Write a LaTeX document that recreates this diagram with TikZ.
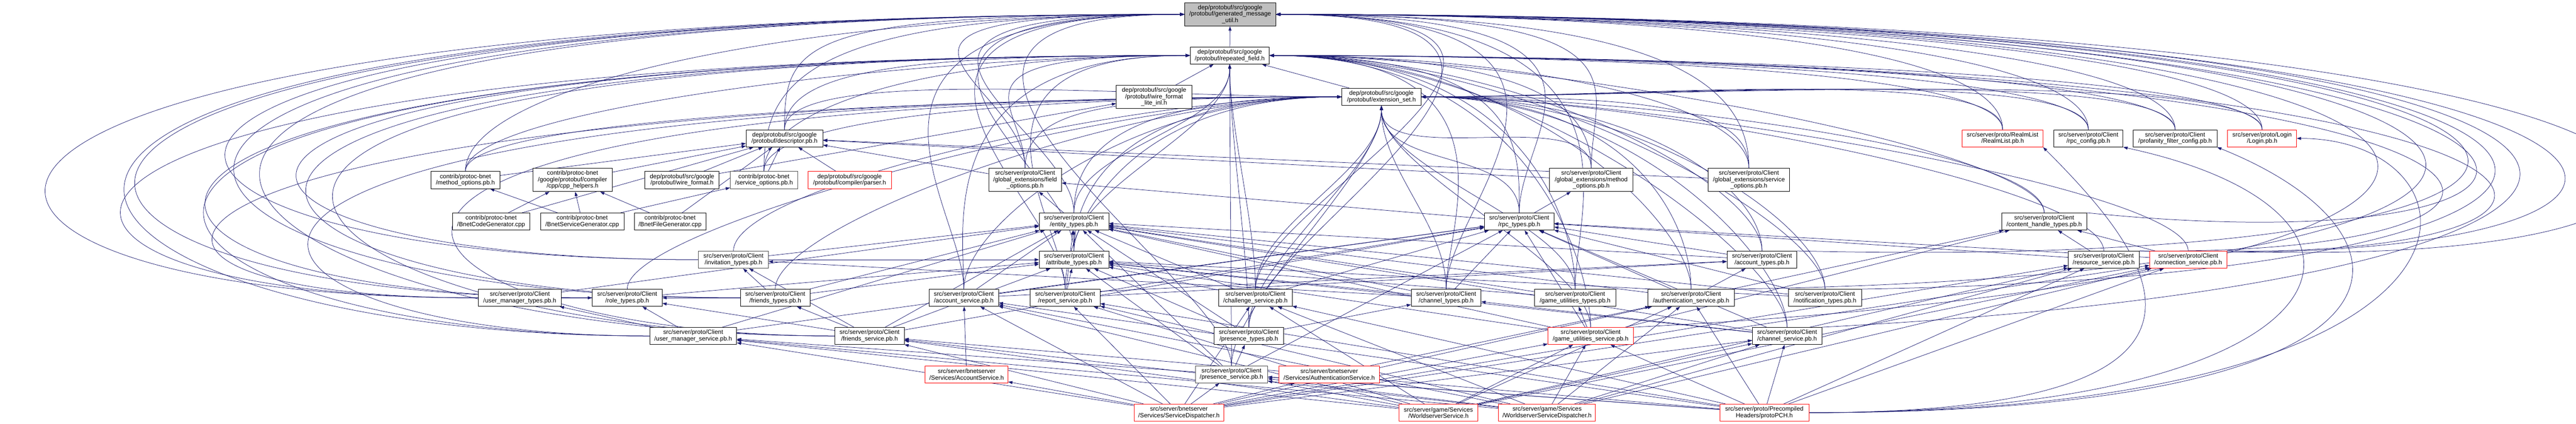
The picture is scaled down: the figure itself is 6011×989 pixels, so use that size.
\documentclass[tikz,border=0pt]{standalone}
\usepackage{fontspec}
\setmainfont{Liberation Sans}
\usepackage{xcolor}
\usepackage{tikz}
\usetikzlibrary{arrows.meta, backgrounds}
\definecolor{edgeblue}{HTML}{191970}
\definecolor{rootgrey}{HTML}{BFBFBF}
\newcommand{\hfont}{\fontsize{14.3}{15}\selectfont}

\begin{document}
\begin{tikzpicture}[x=1pt, y=-1pt,
	hfile/.style={draw=black, fill=white, line width=1pt, inner sep=0pt, align=center, font=\hfont, minimum height=40},
	tallfile/.style={hfile, minimum height=54},
	redfile/.style={hfile, draw=red},
	greyfile/.style={hfile, draw=black!70},
	inc/.style={draw=edgeblue, line width=0.9pt, -{Triangle[length=10pt,width=7pt]}}]
			% Rows of the graph
			\def\rowTop{33.5}
			\def\rowRf{129.5}
			\def\rowEs{226}
			\def\rowDesc{323}
			\def\rowOpt{420}
			\def\rowEnt{517}
			\def\rowAttr{606}
			\def\rowTypes{695}
			\def\rowSvc{784}
			\def\rowBnet{873.5}
			\def\rowDisp{963}
			
			\useasboundingbox (0,0) rectangle (6011,989);
			
			% PROTOBUF HEADERS
			\node[tallfile, fill=rootgrey, minimum width=213, minimum height=55] (root) at (2870.5,\rowTop) {dep/protobuf/src/google\\/protobuf/generated\_message\\\_util.h};
			\node[hfile, minimum width=185] (rf) at (2869.5,\rowRf) {dep/protobuf/src/google\\/protobuf/repeated\_field.h};
			\node[tallfile, minimum width=176] (wfli) at (2693,\rowEs) {dep/protobuf/src/google\\/protobuf/wire\_format\\\_lite\_inl.h};
			\node[hfile, minimum width=185] (es) at (3223.5,\rowEs) {dep/protobuf/src/google\\/protobuf/extension\_set.h};
			\node[hfile, minimum width=179] (desc) at (1830.5,\rowDesc) {dep/protobuf/src/google\\/protobuf/descriptor.pb.h};
			\node[hfile, minimum width=173] (wf) at (1591.5,\rowOpt) {dep/protobuf/src/google\\/protobuf/wire\_format.h};
			\node[redfile, minimum width=195] (parser) at (1982.5,\rowOpt) {dep/protobuf/src/google\\/protobuf/compiler/parser.h};
			
			% PROTOC-BNET
			\node[hfile, minimum width=162] (mopt) at (1086,\rowOpt) {contrib/protoc-bnet\\/method\_options.pb.h};
			\node[tallfile, minimum width=186] (cpph) at (1336,\rowOpt) {contrib/protoc-bnet\\/google/protobuf/compiler\\/cpp/cpp\_helpers.h};
			\node[greyfile, minimum width=157] (sopt) at (1782.5,\rowOpt) {contrib/protoc-bnet\\/service\_options.pb.h};
			\node[hfile, minimum width=180] (bcg) at (1146,\rowEnt) {contrib/protoc-bnet\\/BnetCodeGenerator.cpp};
			\node[hfile, minimum width=195] (bsg) at (1358.5,\rowEnt) {contrib/protoc-bnet\\/BnetServiceGenerator.cpp};
			\node[hfile, minimum width=167] (bfg) at (1563.5,\rowEnt) {contrib/protoc-bnet\\/BnetFileGenerator.cpp};
			
			% GLOBAL EXTENSIONS AND CONFIG
			\node[tallfile, minimum width=170] (gfopt) at (2392,\rowOpt) {src/server/proto/Client\\/global\_extensions/field\\\_options.pb.h};
			\node[tallfile, minimum width=194] (gmopt) at (3713,\rowOpt) {src/server/proto/Client\\/global\_extensions/method\\\_options.pb.h};
			\node[tallfile, minimum width=190] (gsopt) at (4081,\rowOpt) {src/server/proto/Client\\/global\_extensions/service\\\_options.pb.h};
			\node[redfile, minimum width=188] (realm) at (4673,\rowDesc) {src/server/proto/RealmList\\/RealmList.pb.h};
			\node[hfile, minimum width=162] (rpccfg) at (4873,\rowDesc) {src/server/proto/Client\\/rpc\_config.pb.h};
			\node[hfile, minimum width=195] (prof) at (5075.5,\rowDesc) {src/server/proto/Client\\/profanity\_filter\_config.pb.h};
			\node[redfile, minimum width=161] (login) at (5278.5,\rowDesc) {src/server/proto/Login\\/Login.pb.h};
			
			% CLIENT TYPES
			\node[hfile, minimum width=162] (entity) at (2506,\rowEnt) {src/server/proto/Client\\/entity\_types.pb.h};
			\node[hfile, minimum width=162] (rpct) at (3545,\rowEnt) {src/server/proto/Client\\/rpc\_types.pb.h};
			\node[hfile, minimum width=198] (chtypes) at (4770,\rowEnt) {src/server/proto/Client\\/content\_handle\_types.pb.h};
			\node[greyfile, minimum width=163] (invit) at (1711.5,\rowAttr) {src/server/proto/Client\\/invitation\_types.pb.h};
			\node[hfile, minimum width=162] (attr) at (2506,\rowAttr) {src/server/proto/Client\\/attribute\_types.pb.h};
			\node[hfile, minimum width=163] (acct) at (4111.5,\rowAttr) {src/server/proto/Client\\/account\_types.pb.h};
			\node[hfile, minimum width=166] (ressvc) at (4909,\rowAttr) {src/server/proto/Client\\/resource\_service.pb.h};
			\node[redfile, minimum width=180] (connsvc) at (5106,\rowAttr) {src/server/proto/Client\\/connection\_service.pb.h};
			\node[hfile, minimum width=194] (umtypes) at (1213,\rowTypes) {src/server/proto/Client\\/user\_manager\_types.pb.h};
			\node[hfile, minimum width=163] (role) at (1463.5,\rowTypes) {src/server/proto/Client\\/role\_types.pb.h};
			\node[hfile, minimum width=162] (frtypes) at (1809,\rowTypes) {src/server/proto/Client\\/friends\_types.pb.h};
			\node[hfile, minimum width=162] (acctsvc) at (2249,\rowTypes) {src/server/proto/Client\\/account\_service.pb.h};
			\node[hfile, minimum width=163] (report) at (2485.5,\rowTypes) {src/server/proto/Client\\/report\_service.pb.h};
			\node[hfile, minimum width=171] (chall) at (2929.5,\rowTypes) {src/server/proto/Client\\/challenge\_service.pb.h};
			\node[hfile, minimum width=163] (chantypes) at (3374.5,\rowTypes) {src/server/proto/Client\\/channel\_types.pb.h};
			\node[hfile, minimum width=189] (gutypes) at (3675.5,\rowTypes) {src/server/proto/Client\\/game\_utilities\_types.pb.h};
			\node[hfile, minimum width=202] (authsvc) at (3946,\rowTypes) {src/server/proto/Client\\/authentication\_service.pb.h};
			\node[hfile, minimum width=171] (notif) at (4258.5,\rowTypes) {src/server/proto/Client\\/notification\_types.pb.h};
			
			% CLIENT SERVICES
			\node[hfile, minimum width=203] (umsvc) at (1617.5,\rowSvc) {src/server/proto/Client\\/user\_manager\_service.pb.h};
			\node[hfile, minimum width=162] (frsvc) at (2029,\rowSvc) {src/server/proto/Client\\/friends\_service.pb.h};
			\node[hfile, minimum width=162] (prestypes) at (2914,\rowSvc) {src/server/proto/Client\\/presence\_types.pb.h};
			\node[redfile, minimum width=199] (gusvc) at (3711.5,\rowSvc) {src/server/proto/Client\\/game\_utilities\_service.pb.h};
			\node[hfile, minimum width=162] (chansvc) at (4170,\rowSvc) {src/server/proto/Client\\/channel\_service.pb.h};
			\node[greyfile, minimum width=169] (pressvc) at (2873.5,\rowBnet) {src/server/proto/Client\\/presence\_service.pb.h};
			
			% SERVER SERVICES
			\node[redfile, minimum width=193] (accsh) at (2255.5,\rowBnet) {src/server/bnetserver\\/Services/AccountService.h};
			\node[redfile, minimum width=235] (authsh) at (3101.5,\rowBnet) {src/server/bnetserver\\/Services/AuthenticationService.h};
			\node[redfile, minimum width=210] (svcdisp) at (2751,\rowDisp) {src/server/bnetserver\\/Services/ServiceDispatcher.h};
			\node[redfile, minimum width=183] (wsvc) at (3356.5,\rowDisp) {src/server/game/Services\\/WorldserverService.h};
			\node[redfile, minimum width=226] (wsdisp) at (3610,\rowDisp) {src/server/game/Services\\/WorldserverServiceDispatcher.h};
			\node[redfile, minimum width=208] (pch) at (4117,\rowDisp) {src/server/proto/Precompiled\\Headers/protoPCH.h};
			
			\begin{scope}[on background layer]
			% INCLUDES OF generated_message_util.h
			\draw[inc] (rf) -- (root);
			\foreach \n in {desc,mopt,sopt,gfopt,entity,attr,acctsvc,report,pressvc}
				\draw[inc] (\n.north) .. controls +(0,-200) and +(-900,0) .. (root.west);
			\foreach \n/\c in {umtypes/-500,role/-350,invit/-150,frtypes/-250,umsvc/-650,frsvc/-400}
				\draw[inc] (\n.west) .. controls +(-1500,0) and (\c,\rowTop) .. (root.west);
			\foreach \n in {chall,prestypes,chantypes,gutypes,gmopt,gsopt,rpct,realm,rpccfg,prof,login}
				\draw[inc] (\n.north) .. controls +(0,-200) and +(900,0) .. (root.east);
			\foreach \n/\c in {chtypes/6300,acct/6450,ressvc/6550,connsvc/6700,authsvc/6350,notif/6500,chansvc/6600,gusvc/6250}
				\draw[inc] (\n.north east) .. controls (\c,640) and (\c,\rowTop) .. (root.east);
			
			% INCLUDES OF repeated_field.h
			\draw[inc] (wfli) -- (rf);
			\draw[inc] (es) -- (rf);
			\foreach \n in {desc,mopt,sopt,gfopt,acctsvc,report}
				\draw[inc] (\n.north) .. controls +(0,-150) and +(-600,0) .. (rf.west);
			\foreach \n/\c in {umtypes/-200,role/-100,invit/100,frtypes/0,umsvc/-350,frsvc/-150}
				\draw[inc] (\n.west) .. controls +(-1300,0) and (\c,\rowRf) .. (rf.west);
			\foreach \n in {entity,attr,chall,prestypes,pressvc}
				\draw[inc] (\n.north) .. controls +(0,-150) and +(0,150) .. (rf.south);
			\foreach \n in {chantypes,gutypes,gmopt,gsopt,rpct,chtypes,realm,rpccfg,prof,login,acct,authsvc,notif,chansvc,gusvc}
				\draw[inc] (\n.north) .. controls +(0,-150) and +(600,0) .. (rf.east);
			\foreach \n/\c in {ressvc/6150,connsvc/6250}
				\draw[inc] (\n.north east) .. controls (\c,600) and (\c,\rowRf) .. (rf.east);
			
			% INCLUDES OF extension_set.h
			\foreach \n in {desc,mopt,sopt,gfopt,entity,invit,attr,role,frtypes,acctsvc,report}
				\draw[inc] (\n.north) .. controls +(0,-150) and +(-500,0) .. (es.west);
			\foreach \n/\c in {umtypes/200,umsvc/50,frsvc/300}
				\draw[inc] (\n.west) .. controls +(-1100,0) and (\c,\rowEs) .. (es.west);
			\foreach \n in {rpct,chall,chantypes,gutypes,prestypes,pressvc,gusvc,gmopt}
				\draw[inc] (\n.north) .. controls +(0,-150) and +(0,150) .. (es.south);
			\foreach \n in {realm,rpccfg,prof,login,gsopt,chtypes,acct,ressvc,connsvc,authsvc,notif,chansvc}
				\draw[inc] (\n.north) .. controls +(0,-150) and +(500,0) .. (es.east);
			
			% PROTOBUF AND PROTOC-BNET INCLUDES
			\foreach \a/\b in {mopt/desc,sopt/desc,gfopt/desc,gmopt/desc,gsopt/desc,wf/desc,parser/desc,cpph/desc,wf/wfli,
				bcg/cpph,bcg/desc,bsg/cpph,bsg/mopt,bsg/sopt,bfg/cpph,bfg/desc}
				\draw[inc] (\a) -- (\b);
			
			% CLIENT PROTO INCLUDES
			\foreach \a/\b in {entity/gfopt,rpct/gmopt,rpct/gfopt,attr/entity,invit/entity,invit/attr,acct/entity,acct/rpct,
				role/attr,umtypes/entity,umtypes/role,frtypes/attr,frtypes/entity,frtypes/invit,frtypes/role,
				umsvc/umtypes,umsvc/role,umsvc/entity,umsvc/rpct,frsvc/frtypes,frsvc/attr,frsvc/entity,frsvc/invit,frsvc/rpct,frsvc/role,
				acctsvc/acct,acctsvc/entity,acctsvc/rpct,report/acct,report/attr,report/entity,report/rpct,
				chall/attr,chall/entity,chall/rpct,chantypes/attr,chantypes/entity,chantypes/invit,chantypes/rpct,
				gutypes/attr,gutypes/entity,authsvc/chtypes,authsvc/entity,authsvc/acct,authsvc/rpct,
				notif/attr,notif/entity,notif/rpct,prestypes/attr,prestypes/entity,prestypes/chantypes,
				gusvc/attr,gusvc/chtypes,gusvc/entity,gusvc/gutypes,gusvc/rpct,chansvc/attr,chansvc/entity,chansvc/chantypes,chansvc/rpct,
				pressvc/attr,pressvc/entity,pressvc/prestypes,pressvc/rpct,ressvc/chtypes,ressvc/rpct,connsvc/chtypes,connsvc/rpct}
				\draw[inc] (\a) -- (\b);
			
			% SERVER INCLUDES
			\draw[inc] (accsh) -- (acctsvc);
			\draw[inc] (authsh) -- (authsvc);
			\draw[inc] (svcdisp) -- (accsh);
			\draw[inc] (svcdisp) -- (authsh);
			\foreach \d in {svcdisp,wsvc,wsdisp,pch}
				\foreach \s in {acctsvc,authsvc,chall,chansvc,connsvc,frsvc,gusvc,pressvc,report,ressvc,umsvc}
					\draw[inc] (\d) -- (\s);
			\draw[inc] (pch.east) .. controls +(1100,0) and +(250,250) .. (realm.south east);
			\draw[inc] (pch.east) .. controls +(1300,0) and +(700,150) .. (rpccfg.south east);
			\draw[inc] (pch.east) .. controls +(1500,0) and +(500,200) .. (prof.south east);
			\draw[inc] (pch.east) .. controls +(1700,0) and +(450,0) .. (login.east);
			\end{scope}
\end{tikzpicture}
\end{document}
